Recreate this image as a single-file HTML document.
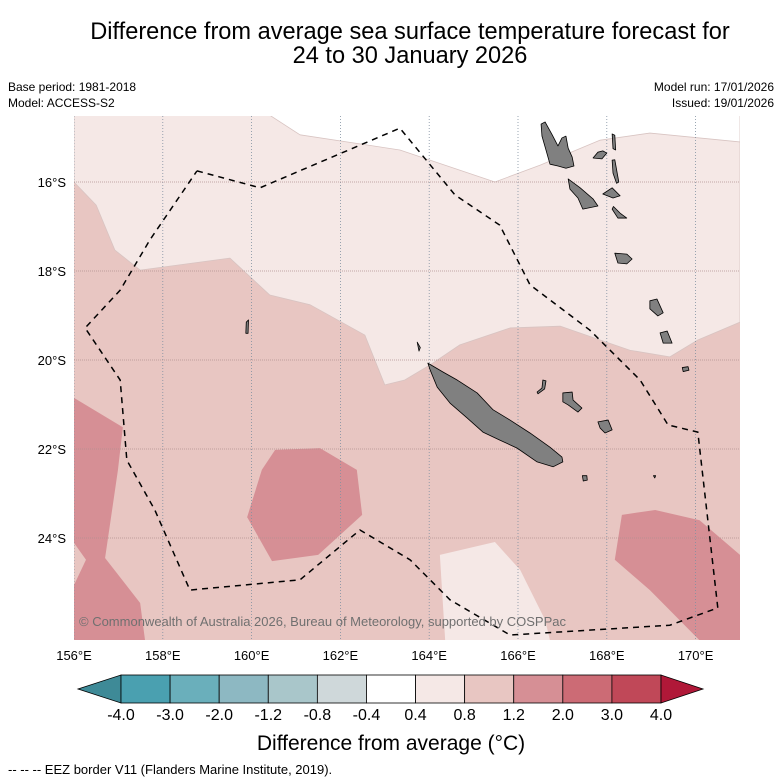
<!DOCTYPE html>
<html><head><meta charset="utf-8"><style>
body{margin:0;background:#fff;font-family:"Liberation Sans","DejaVu Sans",sans-serif}
#wrap{position:relative;width:781px;height:781px;overflow:hidden}
</style></head><body><div id="wrap">
<svg id="svg" width="781" height="781" xmlns="http://www.w3.org/2000/svg">
<text x="410" y="39" font-size="23.6" text-anchor="middle">Difference from average sea surface temperature forecast for</text>
<text x="410" y="63" font-size="23.6" text-anchor="middle">24 to 30 January 2026</text>
<text x="8" y="91" font-size="12">Base period: 1981-2018</text>
<text x="8" y="107" font-size="12">Model: ACCESS-S2</text>
<text x="774" y="91" font-size="12" text-anchor="end">Model run: 17/01/2026</text>
<text x="774" y="107" font-size="12" text-anchor="end">Issued: 19/01/2026</text>
<defs><clipPath id="mc"><rect x="74" y="116" width="666" height="524"/></clipPath></defs>
<g id="map" clip-path="url(#mc)"></g>
<g id="axes"></g>
<g id="cbar"></g>
<text x="391" y="750" font-size="21" text-anchor="middle">Difference from average (°C)</text>
<text x="8" y="774" font-size="13">--  --  -- EEZ border V11 (Flanders Marine Institute, 2019).</text>
</svg></div>
<script>
const lonTicks=[156,158,160,162,164,166,168,170];
const latTicks=[16,18,20,22,24];
const cbColors=["#4aa0b0","#6aafbb","#8db8c2","#a9c6ca","#cfd8da","#ffffff","#f5e8e6","#e8c6c2","#d68f95","#cc6b75","#c04858"];
const cbLabels=["-4.0","-3.0","-2.0","-1.2","-0.8","-0.4","0.4","0.8","1.2","2.0","3.0","4.0"];
const regionMedium=[[156,14.5],[171,14.5],[171,26.3],[156,26.3]];
const regionLight=[[156,14.5],[171,14.5],[171,19.15],[170.05,19.55],[169.42,19.93],[168.52,19.78],[167.85,19.55],[166.95,19.24],[165.82,19.28],[164.69,19.66],[164.02,20.11],[163.45,20.45],[163,20.56],[162.55,19.44],[161.32,18.76],[160.41,18.54],[159.51,17.71],[157.49,17.98],[156.92,17.53],[156.5,16.52],[156,16]];
const regionWhite=[[160.41,14.5],[161.09,14.94],[163.34,15.28],[165.48,16],[166.5,15.62],[167.85,15.06],[168.97,14.9],[171,15.1],[171,14.5]];
const regionDarkLeft=[[156,20.85],[157.1,21.51],[156.99,22.47],[156.7,24.45],[157.49,25.46],[157.6,26.3],[156,26.3],[156,25.06],[156.27,24.49],[156,24.11]];
const regionDarkCenter=[[160.23,22.47],[160.53,22.02],[161.54,21.98],[162.37,22.47],[162.49,23.48],[161.5,24.38],[160.46,24.52],[159.9,23.53]];
const regionDarkRight=[[168.34,23.48],[169.09,23.37],[170.09,23.6],[171,24.38],[171,26.3],[170.09,26.3],[168.97,25.17],[168.18,24.49]];
const regionLightBottom=[[164.24,24.38],[165.48,24.09],[166.05,24.72],[166.61,25.84],[166.72,26.3],[164.36,26.3]];
const eez=[[158.77,15.75],[160.19,16.13],[163.34,14.79],[164.58,16.29],[165.59,16.97],[166.27,18.31],[167.62,19.33],[168.75,20.45],[169.38,21.46],[170.05,21.62],[170.5,25.57],[169.42,25.96],[165.82,26.18],[164.47,25.39],[163.57,24.49],[162.44,23.82],[161.09,24.94],[158.61,25.17],[157.82,23.37],[157.19,22.25],[157.04,20.45],[156.25,19.28],[157.04,18.43],[157.71,17.3],[158.77,15.75]];
const newCaledonia=[[163.97,20.07],[164.31,20.27],[164.63,20.45],[165.08,20.74],[165.44,21.12],[165.82,21.35],[166.27,21.64],[166.72,21.96],[166.99,22.18],[167.01,22.29],[166.79,22.4],[166.43,22.29],[165.98,21.98],[165.59,21.8],[165.21,21.62],[164.85,21.3],[164.47,20.97],[164.18,20.61],[164.02,20.22]];
const islands=[
[[166.52,14.70],[166.61,14.65],[166.77,14.94],[166.9,15.19],[166.99,15.01],[167.08,14.97],[167.13,15.24],[167.22,15.44],[167.26,15.64],[167.08,15.69],[166.9,15.64],[166.72,15.6],[166.63,15.28],[166.54,14.97]],
[[167.13,15.93],[167.4,16.13],[167.69,16.38],[167.8,16.54],[167.46,16.61],[167.35,16.36],[167.17,16.16]],
[[168.12,14.92],[168.18,14.95],[168.2,15.28],[168.14,15.25]],
[[168.12,15.51],[168.18,15.5],[168.27,16.0],[168.22,16.03],[168.14,15.8]],
[[167.69,15.46],[167.8,15.33],[167.91,15.30],[168.0,15.35],[167.89,15.48]],
[[167.91,16.27],[168.12,16.13],[168.3,16.31],[168.14,16.36]],
[[168.12,16.61],[168.25,16.81],[168.45,16.81],[168.3,16.7],[168.15,16.55]],
[[168.18,17.6],[168.45,17.62],[168.57,17.73],[168.45,17.84],[168.25,17.82]],
[[168.97,18.67],[169.13,18.63],[169.27,18.94],[169.15,19.01],[168.97,18.85]],
[[169.2,19.39],[169.36,19.35],[169.47,19.62],[169.27,19.62]],
[[169.7,20.17],[169.83,20.15],[169.85,20.23],[169.72,20.26]],
[[166.43,20.72],[166.54,20.63],[166.56,20.45],[166.63,20.47],[166.6,20.65],[166.45,20.76]],
[[167.01,20.74],[167.22,20.72],[167.24,20.9],[167.44,21.08],[167.35,21.17],[167.13,21.01],[167.01,20.94]],
[[167.8,21.39],[168.03,21.35],[168.12,21.57],[167.96,21.64],[167.85,21.53]],
[[167.45,22.6],[167.55,22.6],[167.56,22.7],[167.47,22.72]],
[[163.73,19.6],[163.8,19.72],[163.77,19.8]],
[[159.88,19.15],[159.93,19.1],[159.92,19.4],[159.87,19.4]],
[[169.05,22.6],[169.1,22.6],[169.08,22.65]]];
const X=lon=>74+(lon-156)*44.4, Y=lat=>182+(lat-16)*44.5;
const NS="http://www.w3.org/2000/svg";
function mk(p,t,a){const e=document.createElementNS(NS,t);for(const k in a)e.setAttribute(k,a[k]);p.appendChild(e);return e;}
const map=document.getElementById('map');
function poly(pts,fill,name,stroke){const e=mk(map,'polygon',{points:pts.map(p=>X(p[0])+','+Y(p[1])).join(' '),fill:fill,stroke:stroke||'none','stroke-width':stroke?0.8:0,'stroke-linejoin':'round'});

return e;}
poly(regionMedium,'#e8c6c2','anomaly-0.8-1.2');
poly(regionLight,'#f5e8e6','anomaly-0.4-0.8','#d8c4c2');
poly(regionWhite,'#ffffff','anomaly-neutral','#d8c4c2');
poly(regionDarkLeft,'#d68f95','anomaly-1.2-2.0-west');
poly(regionDarkCenter,'#d68f95','anomaly-1.2-2.0-center');
poly(regionDarkRight,'#d68f95','anomaly-1.2-2.0-east');
poly(regionLightBottom,'#f5e8e6','anomaly-0.4-0.8-south');
lonTicks.forEach(l=>{const e=mk(map,'line',{x1:X(l),x2:X(l),y1:116,y2:640,stroke:'#8090a0','stroke-width':0.8,'stroke-dasharray':'1,2'});

});
latTicks.forEach(l=>{const e=mk(map,'line',{x1:74,x2:740,y1:Y(l),y2:Y(l),stroke:'#b09090','stroke-width':0.8,'stroke-dasharray':'1,1'});

});
poly(newCaledonia,'#808080','new-caledonia','#000');
islands.forEach(i=>poly(i,'#808080','island','#000'));
const ez=mk(map,'polyline',{points:eez.map(p=>X(p[0])+','+Y(p[1])).join(' '),fill:'none',stroke:'#000','stroke-width':1.5,'stroke-dasharray':'6,5'});


const cp=mk(map,'text',{x:79,y:626,'font-size':13,fill:'#707070'});cp.textContent='© Commonwealth of Australia 2026, Bureau of Meteorology, supported by COSPPac';


const ax=document.getElementById('axes');
lonTicks.forEach(l=>{const t=mk(ax,'text',{x:X(l),y:660,'font-size':13,'text-anchor':'middle'});t.textContent=l+'°E';

});
latTicks.forEach(l=>{const t=mk(ax,'text',{x:66,y:Y(l)+5,'font-size':13,'text-anchor':'end'});t.textContent=l+'°S';

});
const cb=document.getElementById('cbar');
const x0=121,x1=661,y0=675,h=28,bw=(x1-x0)/cbColors.length;
const lt=mk(cb,'polygon',{points:`${x0},${y0} ${x0},${y0+h} 78,${y0+h/2}`,fill:'#3e8a97',stroke:'#000','stroke-width':0.8});


cbColors.forEach((c,i)=>{const r=mk(cb,'rect',{x:x0+i*bw,y:y0,width:bw,height:h,fill:c,stroke:'#000','stroke-width':0.8});

});
const rt=mk(cb,'polygon',{points:`${x1},${y0} ${x1},${y0+h} 703,${y0+h/2}`,fill:'#b01838',stroke:'#000','stroke-width':0.8});


cbLabels.forEach((s,i)=>{const t=mk(cb,'text',{x:x0+i*bw,y:720,'font-size':16,'text-anchor':'middle'});t.textContent=s;

});
</script></body></html>
